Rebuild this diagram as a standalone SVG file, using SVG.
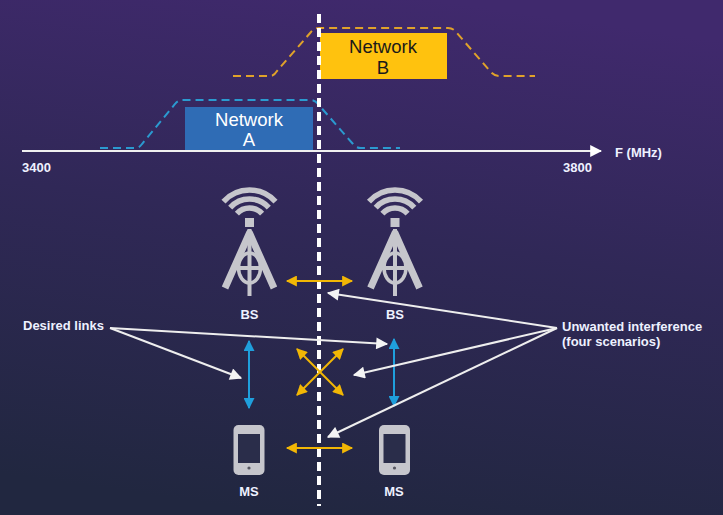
<svg xmlns="http://www.w3.org/2000/svg" xmlns:xlink="http://www.w3.org/1999/xlink" width="723" height="515" viewBox="0 0 723 515">
<style>
.lbl{font-family:"Liberation Sans",Arial,sans-serif;font-weight:bold;font-size:13px;fill:#eef1ff}
.net{font-family:"Liberation Sans",Arial,sans-serif;font-size:18.5px;text-anchor:middle}
.ico{fill:none;stroke:#c6c6cc}
.ya{stroke:#f2b705;stroke-width:2;fill:none;marker-start:url(#my);marker-end:url(#my)}
.ba{stroke:#1f9fdc;stroke-width:2;fill:none;marker-start:url(#mb);marker-end:url(#mb)}
.wa{stroke:#eeeeee;stroke-width:2;fill:none;marker-end:url(#mw)}
</style>
<defs>
<linearGradient id="bg" x1="0.6" y1="0" x2="0.4" y2="1">
<stop offset="0" stop-color="#40296d"/>
<stop offset="0.45" stop-color="#302857"/>
<stop offset="1" stop-color="#212740"/>
</linearGradient>
<marker id="my" viewBox="0 0 10 10" refX="9" refY="5" markerWidth="12" markerHeight="11" markerUnits="userSpaceOnUse" orient="auto-start-reverse"><path d="M0,0 L10,5 L0,10 z" fill="#f2b705"/></marker>
<marker id="mb" viewBox="0 0 10 10" refX="9" refY="5" markerWidth="11" markerHeight="11" markerUnits="userSpaceOnUse" orient="auto-start-reverse"><path d="M0,0 L10,5 L0,10 z" fill="#1f9fdc"/></marker>
<marker id="mw" viewBox="0 0 10 10" refX="9" refY="5" markerWidth="14" markerHeight="12" markerUnits="userSpaceOnUse" orient="auto"><path d="M0,0 L10,5 L0,10 z" fill="#f4f4f4"/></marker>
<marker id="ma" viewBox="0 0 10 10" refX="9" refY="5" markerWidth="12" markerHeight="12" markerUnits="userSpaceOnUse" orient="auto"><path d="M0,0 L10,5 L0,10 z" fill="#ffffff"/></marker>
<g id="tower">
<path class="ico" stroke-width="5.5" d="M-26,201.6 A35,35 0 0 1 26,201.6"/>
<path class="ico" stroke-width="5.5" d="M-19.3,207.6 A26,26 0 0 1 19.3,207.6"/>
<path class="ico" stroke-width="5.5" d="M-12.6,213.6 A17,17 0 0 1 12.6,213.6"/>
<rect x="-4.5" y="218" width="9" height="9" fill="#c6c6cc"/>
<path class="ico" stroke-width="7" stroke-linejoin="round" d="M-24.5,288 L0,233 L24.5,288"/>
<path class="ico" stroke-width="4" d="M0,229 V296"/>
<path class="ico" stroke-width="4" d="M-18,268 H18"/>
<ellipse class="ico" stroke-width="3.5" cx="0" cy="268" rx="11" ry="15"/>
</g>
<g id="phone">
<rect x="-15.5" y="425" width="31" height="50" rx="5" fill="#c6c6cc"/>
<rect x="-11" y="434" width="22" height="29" fill="#2a2d4a"/>
<circle cx="0" cy="468" r="1.6" fill="#555560"/>
</g>
</defs>
<rect width="723" height="515" fill="url(#bg)"/>

<g id="spectrum">
<path d="M100,148 H136 Q139,148 142,144 L175,104 Q178,100 183,100 H310 Q315,100 318,104 L353,144 Q356,148 361,148 H400" fill="none" stroke="#2b9ad0" stroke-width="2" stroke-dasharray="8 5"/>
<path d="M233,76 H270 Q274,76 277,71 L311,32 Q314,28 319,28 H448 Q453,28 456,32 L490,71 Q494,76 499,76 H535" fill="none" stroke="#e0a22a" stroke-width="2" stroke-dasharray="8 5"/>
</g>

<g id="networkA">
<rect x="185" y="107" width="128" height="44" fill="#2f6cb5"/>
<text class="net" x="249" y="126" fill="#ffffff">Network</text>
<text class="net" x="249" y="146" fill="#ffffff">A</text>
</g>

<g id="networkB">
<rect x="320" y="33" width="127" height="46" fill="#ffc20e"/>
<text class="net" x="383" y="53" fill="#1a1a1a">Network</text>
<text class="net" x="383" y="74" fill="#1a1a1a">B</text>
</g>

<g id="axis">
<line x1="22" y1="151" x2="601" y2="151" stroke="#f0f0f0" stroke-width="2" marker-end="url(#ma)"/>
<text class="lbl" x="22" y="172">3400</text>
<text class="lbl" x="563" y="172">3800</text>
<text class="lbl" x="615" y="157">F (MHz)</text>
</g>

<g id="divider">
<line x1="319" y1="14" x2="319" y2="506" stroke="#ffffff" stroke-width="4" stroke-dasharray="9 5"/>
</g>

<g id="bsA">
<use xlink:href="#tower" href="#tower" transform="translate(249.5,0)"/>
<text class="lbl" x="249.5" y="319" text-anchor="middle">BS</text>
</g>
<g id="bsB">
<use xlink:href="#tower" href="#tower" transform="translate(395,0)"/>
<text class="lbl" x="395" y="319" text-anchor="middle">BS</text>
</g>
<g id="msA">
<use xlink:href="#phone" href="#phone" transform="translate(249,0)"/>
<text class="lbl" x="249" y="496" text-anchor="middle">MS</text>
</g>
<g id="msB">
<use xlink:href="#phone" href="#phone" transform="translate(394.5,0)"/>
<text class="lbl" x="394" y="496" text-anchor="middle">MS</text>
</g>

<g id="desiredLabel">
<text class="lbl" x="23" y="330">Desired links</text>
</g>
<g id="unwantedLabel">
<text class="lbl" x="562" y="331">Unwanted interference</text>
<text class="lbl" x="562" y="346">(four scenarios)</text>
</g>

<g id="connectors">
<line class="ya" x1="287" y1="281" x2="352" y2="281"/>
<line class="ya" x1="287" y1="448" x2="352" y2="448"/>
<line class="ya" x1="297" y1="349" x2="343" y2="395"/>
<line class="ya" x1="343" y1="349" x2="297" y2="395"/>
<line class="ba" x1="249" y1="341" x2="249" y2="408"/>
<line class="ba" x1="394" y1="339" x2="394" y2="406"/>
<line class="wa" x1="110" y1="328" x2="387" y2="344"/>
<line class="wa" x1="110" y1="328" x2="241" y2="378"/>
<line class="wa" x1="557" y1="328" x2="328" y2="293"/>
<line class="wa" x1="557" y1="328" x2="354" y2="375"/>
<line class="wa" x1="557" y1="328" x2="328" y2="437"/>
</g>
</svg>
